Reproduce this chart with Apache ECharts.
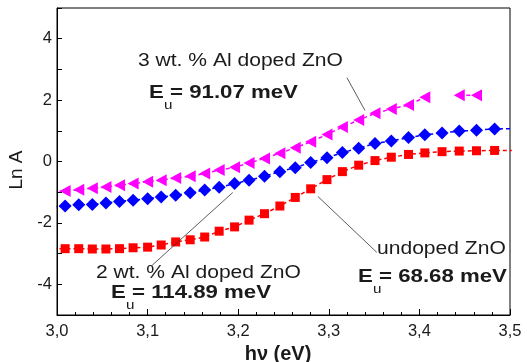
<!DOCTYPE html>
<html>
<head>
<meta charset="utf-8">
<script src="https://cdn.jsdelivr.net/npm/echarts@6/dist/echarts.min.js"></script>
<style>
html,body{margin:0;padding:0;background:#fff;}
#chart{width:527px;height:362px;}
</style>
</head>
<body>
<div id="chart"></div>
<script>
// photon energy hν (eV)
const energy = [2.995, 3.009, 3.024, 3.039, 3.054, 3.069, 3.084, 3.100, 3.115, 3.131, 3.147,
  3.163, 3.179, 3.196, 3.212, 3.229, 3.246, 3.263, 3.280, 3.298, 3.315, 3.333, 3.351, 3.369,
  3.388, 3.406, 3.425, 3.444, 3.463, 3.483, 3.502];
// Ln A, undoped ZnO
const lnA_undoped = [-2.84, -2.84, -2.84, -2.85, -2.85, -2.84, -2.81, -2.79, -2.72, -2.62, -2.55,
  -2.46, -2.27, -2.13, -1.91, -1.70, -1.45, -1.17, -0.89, -0.59, -0.33, -0.12, 0.03, 0.14,
  0.23, 0.28, 0.32, 0.34, 0.35, 0.36, 0.36];
// Ln A, 2 wt.% Al doped ZnO
const lnA_2wt = [-1.48, -1.45, -1.41, -1.40, -1.35, -1.30, -1.26, -1.21, -1.16, -1.10, -1.02,
  -0.93, -0.84, -0.72, -0.61, -0.48, -0.33, -0.20, -0.03, 0.12, 0.29, 0.43, 0.59, 0.67,
  0.78, 0.87, 0.93, 0.99, 1.02, 1.06, 1.07];
// Ln A, 3 wt.% Al doped ZnO
const lnA_3wt = [-0.99, -0.96, -0.92, -0.87, -0.83, -0.77, -0.72, -0.66, -0.61, -0.54, -0.48,
  -0.39, -0.28, -0.19, -0.05, 0.10, 0.27, 0.45, 0.64, 0.88, 1.12, 1.35, 1.57, 1.71,
  1.84, 2.09, null, 2.16, 2.16, null, null];

const xTicks = [3.0, 3.1, 3.2, 3.3, 3.4, 3.5];
const yTickLabels = [-4, -2, 0, 2, 4];

const sampleNames = ['3 wt. % Al doped ZnO', '2 wt. % Al doped ZnO', 'undoped ZnO'];
const urbachValues = ['= 91.07 meV', '= 114.89 meV', '= 68.68 meV'];
// arrows: [from, to] in data coordinates (hν, Ln A)
const arrows = [
  [[3.320, 2.73], [3.340, 1.66]],
  [[3.105, -3.38], [3.194, -1.01]],
  [[3.353, -2.96], [3.288, -1.14]]
];

const FONT = '"Liberation Sans", Arial, sans-serif';
const pairs = (ys) => energy.map((x, i) => [x, ys[i]]);

const chart = echarts.init(document.getElementById('chart'), null, {renderer: 'canvas'});

function txt(x, y, text, size, weight, sx) {
  return {
    type: 'text', x: x, y: y, scaleX: sx || 1.17, silent: true,
    style: {
      text: text, fill: '#1a1a1a',
      font: (weight || 'normal') + ' ' + size + 'px ' + FONT,
      fontSize: size, fontWeight: weight || 'normal', fontFamily: FONT,
      align: 'left', verticalAlign: 'middle',
      textAlign: 'left', textVerticalAlign: 'middle'
    }
  };
}
function eLabel(x, y, value) {
  return [
    txt(x, y, 'E', 19, 'bold'),
    txt(x + 15, y + 12, 'u', 13, 'normal'),
    txt(x + 21, y, value, 19, 'bold')
  ];
}

const graphics = [].concat(
  [txt(138, 61.5, sampleNames[0], 18)],
  eLabel(149, 93, urbachValues[0]),
  [txt(96, 273.5, sampleNames[1], 18)],
  eLabel(111, 293, urbachValues[1]),
  [txt(377, 249, sampleNames[2], 18)],
  eLabel(358, 277, urbachValues[2])
);

const option = {
  animation: false,
  backgroundColor: '#fff',
  grid: {left: 57, right: 17, top: 8, bottom: 47, show: true, borderColor: '#000', borderWidth: 1,
    backgroundColor: 'transparent', containLabel: false, outerBoundsMode: 'none'},
  xAxis: {
    type: 'value', min: xTicks[0], max: xTicks[xTicks.length - 1], interval: 0.1,
    name: 'hν (eV)', nameLocation: 'middle', nameGap: 18,
    nameTextStyle: {fontFamily: FONT, fontSize: 20, fontWeight: 'bold', color: '#1a1a1a', padding: [0, 11, 0, 0]},
    axisLine: {show: true, onZero: false, lineStyle: {color: '#000', width: 1}},
    axisTick: {show: true, inside: true, length: 6, lineStyle: {color: '#000'}},
    minorTick: {show: true, splitNumber: 5, length: 3, lineStyle: {color: '#000'}},
    splitLine: {show: false},
    axisLabel: {fontFamily: FONT, fontSize: 16.5, color: '#1a1a1a', margin: 8,
      formatter: v => v.toFixed(1).replace('.', ',')}
  },
  yAxis: {
    type: 'value', min: -5, max: 5, interval: 1,
    name: 'Ln A', nameLocation: 'middle', nameRotate: 90, nameGap: 28,
    nameTextStyle: {fontFamily: FONT, fontSize: 19, color: '#1a1a1a', padding: [0, 17, 0, 0]},
    axisLine: {show: true, onZero: false, lineStyle: {color: '#000', width: 1}},
    axisTick: {show: true, inside: true, length: 5, lineStyle: {color: '#000'}},
    splitLine: {show: false},
    axisLabel: {fontFamily: FONT, fontSize: 16.5, color: '#1a1a1a', margin: 5,
      formatter: v => yTickLabels.indexOf(v) >= 0 ? String(v) : ''}
  },
  series: [
    {
      name: 'undoped ZnO', type: 'line', data: pairs(lnA_undoped), clip: true,
      symbol: 'rect', symbolSize: 9, showAllSymbol: true,
      itemStyle: {color: '#ff0000'},
      lineStyle: {color: '#ff0000', width: 1.5, type: [4, 3]},
      markLine: {
        silent: true, animation: false, symbol: ['none', 'arrow'], symbolSize: [0, 8],
        lineStyle: {color: '#333', width: 0.8, type: 'solid'},
        label: {show: false}, emphasis: {disabled: true},
        data: arrows.map(a => [{coord: a[0]}, {coord: a[1]}])
      }
    },
    {
      name: '2 wt. % Al doped ZnO', type: 'line', data: pairs(lnA_2wt), clip: true,
      symbol: 'diamond', symbolSize: 13, showAllSymbol: true,
      itemStyle: {color: '#0000ff'},
      lineStyle: {color: '#0000ff', width: 1.5, type: [4, 3]}
    },
    {
      name: '3 wt. % Al doped ZnO', type: 'line', data: pairs(lnA_3wt), clip: true,
      connectNulls: false,
      symbol: 'triangle', symbolRotate: 90, symbolSize: [12, 11], showAllSymbol: true,
      itemStyle: {color: '#ff00ff'},
      lineStyle: {color: '#ff00ff', width: 1.5, type: [4, 3]}
    }
  ],
  graphic: graphics
};
chart.setOption(option);
</script>
</body>
</html>
